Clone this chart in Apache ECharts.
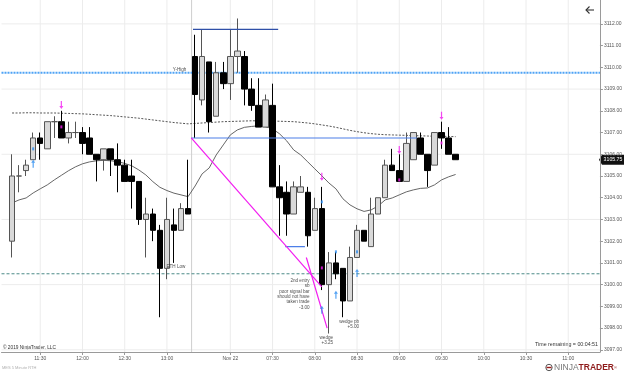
<!DOCTYPE html>
<html><head><meta charset="utf-8">
<script src="https://cdn.jsdelivr.net/npm/echarts@6/dist/echarts.min.js"></script>
<style>html,body{margin:0;padding:0;background:#fff}#c{width:625px;height:373px}</style>
</head><body><div id="c"></div>
<script>
// ---- sessions (5-minute bars, bar close time) ----
const day1First = [11, 5];   // first slot (left blank margin), bars start 11:10
const day1Slots = 27;        // 11:05 .. 13:15
const day2First = [6, 35];
const day2Slots = 58;        // 06:35 .. 11:20

// ---- OHLC (bar 0 = 11:10 on Nov 21, bar 26 = 06:35 on Nov 22) ----
const opens  = [3102.0,3105.0,3105.25,3105.75,3106.75,3106.25,3107.5,3107.5,3106.75,3107.0,
  3107.0,3106.75,3106.0,3105.75,3106.25,3105.75,3105.5,3105.0,3104.75,3103.0,
  3103.25,3102.5,3100.75,3102.75,3102.5,3103.5,
  3110.5,3108.5,3110.25,3107.75,3109.75,3109.25,3110.5,3110.5,3109.0,3108.25,
  3107.25,3108.25,3104.5,3104.25,3103.25,3104.25,3104.25,3102.5,3103.5,3100.0,
  3101.0,3100.75,3099.25,3101.25,3102.5,3101.75,3103.25,3104.0,3105.5,3105.25,
  3104.75,3105.75,3106.75,3106.0,3105.5,3107.0,3106.75,3106.0];
const highs  = [3106.0,3105.5,3105.75,3107.0,3107.0,3107.5,3107.75,3108.0,3107.5,3107.5,
  3107.25,3107.25,3106.0,3106.25,3106.25,3106.5,3105.75,3105.75,3104.75,3104.0,
  3103.5,3102.75,3104.0,3103.5,3103.75,3105.75,
  3111.5,3111.75,3110.25,3110.25,3110.25,3111.75,3112.25,3110.75,3109.5,3109.5,
  3108.75,3109.25,3105.5,3104.75,3104.75,3105.0,3104.5,3104.0,3104.5,3101.5,
  3101.5,3100.75,3101.75,3102.75,3102.5,3104.0,3104.0,3105.75,3106.25,3106.0,
  3107.0,3107.0,3107.0,3106.0,3107.0,3107.5,3107.25,3106.0];
const lows   = [3101.25,3104.25,3105.0,3105.75,3105.75,3106.25,3106.75,3106.75,3106.5,3106.75,
  3106.0,3106.0,3104.75,3105.25,3105.0,3104.25,3104.75,3103.5,3102.75,3101.25,
  3102.0,3098.5,3100.25,3101.0,3102.5,3103.25,
  3106.75,3108.25,3107.0,3107.75,3109.0,3108.5,3109.75,3108.25,3108.0,3107.25,
  3107.25,3104.5,3102.25,3102.25,3103.25,3104.25,3101.75,3102.5,3099.75,3097.75,
  3100.25,3098.5,3099.25,3101.25,3102.0,3101.75,3103.25,3104.0,3105.25,3104.75,
  3104.75,3105.75,3106.0,3104.5,3105.5,3106.25,3106.0,3105.75];
const closes = [3105.0,3105.0,3105.5,3106.75,3106.5,3107.5,3107.5,3106.75,3107.0,3107.0,
  3106.5,3106.0,3105.75,3106.25,3105.75,3105.5,3104.75,3104.75,3103.0,3103.25,
  3102.5,3100.75,3103.0,3102.5,3103.5,3103.25,
  3108.75,3110.5,3107.5,3109.75,3109.25,3110.5,3110.75,3109.0,3108.25,3107.25,
  3108.5,3104.5,3104.0,3103.25,3104.5,3104.5,3102.25,3103.5,3100.0,3101.0,
  3100.5,3099.25,3101.25,3102.5,3102.0,3103.25,3104.0,3105.5,3105.25,3104.75,
  3106.5,3107.0,3106.0,3105.25,3107.0,3106.75,3106.0,3105.75];

// ---- moving averages ----
const maFast = [3103.76,3103.90,3103.99,3104.22,3104.41,3104.59,3104.82,3105.03,3105.24,3105.42,
  3105.56,3105.65,3105.70,3105.72,3105.70,3105.66,3105.58,3105.47,3105.28,3105.05,
  3104.74,3104.48,3104.33,3104.21,3104.13,3104.05,
  3104.54,3105.10,3105.37,3105.97,3106.43,3106.89,3107.12,3107.24,3107.28,3107.31,
  3107.27,3107.17,3106.94,3106.62,3106.20,3105.97,3105.65,3105.33,3105.01,3104.68,
  3104.41,3103.95,3103.67,3103.49,3103.37,3103.44,3103.62,3103.90,3103.99,3104.13,
  3104.27,3104.36,3104.43,3104.45,3104.59,3104.82,3104.96,3105.07];
const maSlow = [3107.90,3107.90,3107.91,3107.91,3107.90,3107.90,3107.90,3107.89,3107.88,3107.87,
  3107.86,3107.84,3107.82,3107.80,3107.78,3107.75,3107.72,3107.69,3107.66,3107.62,
  3107.58,3107.54,3107.50,3107.46,3107.43,3107.40,
  3107.42,3107.44,3107.46,3107.48,3107.50,3107.51,3107.52,3107.53,3107.54,3107.54,
  3107.54,3107.53,3107.52,3107.51,3107.50,3107.47,3107.44,3107.40,3107.35,3107.30,
  3107.24,3107.17,3107.10,3107.04,3106.99,3106.95,3106.92,3106.90,3106.89,3106.88,
  3106.87,3106.86,3106.85,3106.84,3106.83,3106.83,3106.82,3106.81];

// ---- axis ticks ----
const priceTicks = [3097,3098,3099,3100,3101,3102,3103,3104,3105,3106,3107,3108,3109,3110,3111,3112];
const priceGrid = [3097,3100,3103,3106,3109,3112];
const timeTicks = ['11:30','12:00','12:30','13:00','07:00','07:30','08:00','08:30','09:00','09:30','10:00','10:30','11:00'];
const dateLabel = {'07:00':'Nov 22'};

// ---- levels & drawings (bar index, price) ----
const yHigh = 3109.75;
const ethLow = 3100.5;
const sessionBreak = 25.5;
const topLine   = [[25.7,3111.75],[37.8,3111.75]];
const blueLine  = [[25.45,3106.75],[57.5,3106.75]];
const smallBlue = [[38.8,3101.75],[41.6,3101.75]];
const magenta1  = [[25.45,3106.75],[44.0,3099.9]];
const magenta2  = [[41.8,3101.25],[44.75,3098.0]];

// ---- signals ----
const longArrows  = [[3,3105.56],[44,3098.84],[46,3099.53],[49,3100.54]];
const longDots    = [[3,3106.25],[44,3103.81],[46,3101.51],[49,3101.51]];
const shortArrows = [[7,3108.27],[44,3104.96],[55,3106.2],[61,3107.77]];
const shortDots   = [[7,3107.26],[44,3100.77],[55,3104.82],[61,3106.52]];

// ---- notes ----
const notes = [
  {b:22.9, p:3109.88, text:'Y-High', align:'left', v:'middle'},
  {b:22.0, p:3100.82, text:'ETH Low', align:'left', v:'middle'},
  {b:42.33, p:3100.29, text:'2nd entry\nsb\npoor signal bar\nshould not have\ntaken trade\n-3.00', align:'right', v:'top'},
  {b:49.36, p:3098.40, text:'wedge pb\n+5.00', align:'right', v:'top'},
  {b:45.67, p:3097.67, text:'wedge\n+3.25', align:'right', v:'top'}
];

// ---------------- build ----------------
function slots(start, n){
  const out=[]; let m=start[0]*60+start[1];
  for(let i=0;i<n;i++){const h=Math.floor(m/60), mm=m%60; out.push((h<10?'0':'')+h+':'+(mm<10?'0':'')+mm); m+=5;}
  return out;
}
const categories = slots(day1First, day1Slots).concat(slots(day2First, day2Slots));
const tickSet = new Set(timeTicks);
const tickBars = categories.map((c,i)=>tickSet.has(c)?i-1:null).filter(v=>v!==null);
const FONT = 'Liberation Sans, Arial, sans-serif';
const XMIN = -1.5, XMAX = 83.5, YMIN = 3096.9, YMAX = 3113.1;

const candleData = opens.map((o,b)=>[b+1, o, closes[b], lows[b], highs[b]]);
const upArrow = 'path://M2,0 L4,3.2 L2.6,3.2 L2.6,9 L1.4,9 L1.4,3.2 L0,3.2 Z';
const downArrow = 'path://M2,9 L4,5.8 L2.6,5.8 L2.6,0 L1.4,0 L1.4,5.8 L0,5.8 Z';

function seg(data, color, width, type, z){
  return {type:'line', xAxisIndex:1, yAxisIndex:0, data:data, symbol:'none', silent:true,
    lineStyle:{color:color, width:width, type:type||'solid'}, z:z||4, animation:false};
}
const gridSeries = [];
tickBars.forEach(b=>gridSeries.push(seg([[b,YMIN],[b,YMAX]], '#ececec', 1, 'solid', 1)));
priceGrid.forEach(p=>gridSeries.push(seg([[XMIN,p],[XMAX,p]], '#ececec', 1, 'solid', 1)));
gridSeries.push(seg([[sessionBreak,YMIN],[sessionBreak,YMAX]], '#cfcfcf', 1, 'solid', 1));
gridSeries.push(seg([[XMIN,yHigh],[XMAX,yHigh]], '#4ea3f5', 2, [2,1], 2));
gridSeries.push(seg([[XMIN,ethLow],[XMAX,ethLow]], '#4b8a88', 1, [3,2], 2));

const chart = echarts.init(document.getElementById('c'), null, {renderer:'canvas'});
const option = {
  animation:false,
  backgroundColor:'#ffffff',
  grid:{left:1.5, right:25, top:0, bottom:21},
  xAxis:[{
    type:'category', data:categories, boundaryGap:true,
    axisLine:{show:true, onZero:false, lineStyle:{color:'#9a9a9a', width:1}},
    axisTick:{show:true, alignWithLabel:true, interval:(i,v)=>tickSet.has(v), length:3, lineStyle:{color:'#9a9a9a'}},
    axisLabel:{interval:(i,v)=>tickSet.has(v), formatter:(v)=>dateLabel[v]||v, fontSize:5, color:'#555', margin:4, fontFamily:FONT},
    splitLine:{show:false}
  },{
    type:'value', show:false, min:XMIN, max:XMAX, axisLine:{onZero:false}
  }],
  yAxis:[{
    type:'value', position:'right', min:YMIN, max:YMAX, scale:true,
    axisLine:{show:true, onZero:false, lineStyle:{color:'#9a9a9a', width:1}},
    axisTick:{show:true, length:3, customValues:priceTicks, lineStyle:{color:'#9a9a9a'}},
    axisLabel:{customValues:priceTicks, formatter:(v)=>Number(v).toFixed(2), fontSize:5, color:'#555', margin:4, fontFamily:FONT},
    splitLine:{show:false}
  }],
  series: gridSeries.concat([
    {type:'candlestick', xAxisIndex:0, yAxisIndex:0, data:candleData,
      encode:{x:0, y:[1,2,3,4]}, barWidth:6, z:3,
      itemStyle:{color:'#d9d9d9', color0:'#000000', borderColor:'#555555', borderColor0:'#000000', borderWidth:1}},
    seg(maSlow.map((v,b)=>[b,v]), '#555555', 1, [2,1.5], 3),
    seg(maFast.map((v,b)=>[b,v]), '#555555', 0.9, 'solid', 3),
    seg(topLine, '#2f4fa8', 1.2),
    seg(blueLine, '#4d7fe8', 1.2),
    seg(smallBlue, '#4d7fe8', 1.2),
    seg(magenta1, '#f21cf0', 1.2),
    seg(magenta2, '#f21cf0', 1.2),
    {type:'scatter', xAxisIndex:1, yAxisIndex:0, data:longArrows, symbol:upArrow, symbolSize:[4,8], itemStyle:{color:'#2a8cf0'}, z:5, silent:true},
    {type:'scatter', xAxisIndex:1, yAxisIndex:0, data:longDots, symbol:'rect', symbolSize:[2,3], itemStyle:{color:'#2a8cf0'}, z:5, silent:true},
    {type:'scatter', xAxisIndex:1, yAxisIndex:0, data:shortArrows, symbol:downArrow, symbolSize:[4,8], itemStyle:{color:'#f21cf0'}, z:5, silent:true},
    {type:'scatter', xAxisIndex:1, yAxisIndex:0, data:shortDots, symbol:'rect', symbolSize:[2,3], itemStyle:{color:'#f21cf0'}, z:5, silent:true},
    {type:'scatter', xAxisIndex:1, yAxisIndex:0, z:6, silent:true, symbolSize:1, itemStyle:{color:'rgba(0,0,0,0)'},
      data: notes.map(n=>({value:[n.b,n.p], label:{show:true, position:[0,0], formatter:n.text, align:n.align, verticalAlign:n.v,
        fontSize:4.6, lineHeight:5.4, color:'#222', fontFamily:FONT}}))}
  ])
};
chart.setOption(option);

const lastClose = closes[closes.length-1];
const tagY = chart.convertToPixel({yAxisIndex:0}, lastClose);
chart.setOption({graphic:[
  {type:'text', x:3, y:348, style:{text:'© 2019 NinjaTrader, LLC', font:'4.8px '+FONT, fill:'#333', textVerticalAlign:'middle'}},
  {type:'text', x:598, y:345, style:{text:'Time remaining = 00:04:51', font:'5.3px '+FONT, fill:'#333', textAlign:'right', textVerticalAlign:'middle'}},
  {type:'text', x:2, y:368, style:{text:'MES 5 Minute RTH', font:'4px '+FONT, fill:'#b0b0b0', textVerticalAlign:'middle'}},
  {type:'circle', shape:{cx:549, cy:367.5, r:3.2}, style:{fill:'#fff', stroke:'#555', lineWidth:1}},
  {type:'rect', shape:{x:546.5, y:366.8, width:5, height:1.4}, style:{fill:'#9b1c1c'}},
  {type:'text', x:554, y:368, style:{text:'{a|NINJA}{b|TRADER}{c|®}', textVerticalAlign:'middle',
    rich:{a:{fontSize:8.5, fontFamily:FONT, fill:'#777', color:'#777'}, b:{fontSize:8.5, fontWeight:'bold', fontFamily:FONT, fill:'#8e1b1b', color:'#8e1b1b'}, c:{fontSize:4, fontFamily:FONT, fill:'#8e1b1b', color:'#8e1b1b'}}}},
  {type:'polyline', shape:{points:[[594,10],[586,10]]}, style:{stroke:'#333', lineWidth:1.1, fill:null}},
  {type:'polyline', shape:{points:[[589.5,6.5],[586,10],[589.5,13.5]]}, style:{stroke:'#333', lineWidth:1.1, fill:null}},
  {type:'polygon', shape:{points:[[599,tagY],[602,tagY-5],[624,tagY-5],[624,tagY+5],[602,tagY+5]]}, style:{fill:'#111'}},
  {type:'text', x:613, y:tagY, style:{text:lastClose.toFixed(2), font:'5.2px '+FONT, fill:'#fff', textAlign:'center', textVerticalAlign:'middle'}}
]});
</script>
</body></html>
